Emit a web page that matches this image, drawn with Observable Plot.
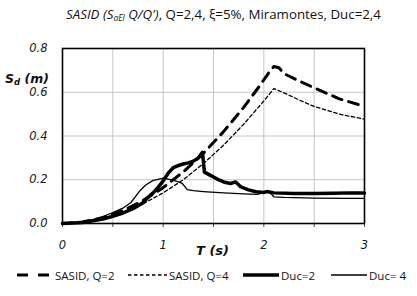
<!DOCTYPE html>
<html>
<head>
<meta charset="utf-8">
<script src="https://cdn.jsdelivr.net/npm/d3@7"></script>
<script src="https://cdn.jsdelivr.net/npm/@observablehq/plot@0.6"></script>
<style>
  html, body { margin:0; padding:0; background:#fff; }
  #wrap { position:relative; width:417px; height:296px; overflow:hidden; background:#fff; }
  #title { position:absolute; top:5px; left:0; width:417px; padding-left:30px; box-sizing:border-box; text-align:center;
           font-family:"Open Sans", sans-serif; font-size:13.3px; color:#111; white-space:nowrap; }
  #title sub { font-size:8.5px; vertical-align:-2px; }
  #chart { position:absolute; top:35px; left:0; }
  #ylabel { position:absolute; left:5px; top:71px; font-family:"DejaVu Sans", sans-serif; font-weight:bold; font-style:italic;
            font-size:12.5px; color:#111; white-space:nowrap; }
  #ylabel sub { font-size:8.5px; vertical-align:-2px; }
  #xlabel { position:absolute; left:196px; top:243px; font-family:"DejaVu Sans", sans-serif; font-weight:bold; font-style:italic;
            font-size:13px; color:#111; white-space:nowrap; }
  .leg { position:absolute; top:266px; display:flex; align-items:center; font-family:"Open Sans", sans-serif; font-size:11.5px; color:#111; white-space:nowrap; }
  .leg svg { display:block; }
</style>
</head>
<body>
<div id="wrap">
  <div id="title"><i>SASID (S<sub>aEl</sub> Q/Q')</i>, Q=2,4, ξ=5%, Miramontes, Duc=2,4</div>
  <div id="chart"></div>
  <div id="ylabel">S<sub>d</sub> (m)</div>
  <div id="xlabel">T (s)</div>
</div>
<script>
// ---- data ----
const tQ2  = [0, 0.2, 0.4, 0.6, 0.8, 1.0, 1.2, 1.4, 1.6, 1.8, 1.95, 2.05, 2.1, 2.15, 2.2, 2.35, 2.5, 2.75, 3.0];
const sdQ2 = [0, 0.007, 0.026, 0.059, 0.105, 0.164, 0.236, 0.321, 0.42, 0.531, 0.624, 0.69, 0.718, 0.712, 0.685, 0.652, 0.62, 0.57, 0.535];

const tQ4  = [0, 0.2, 0.4, 0.6, 0.8, 1.0, 1.2, 1.4, 1.6, 1.8, 2.0, 2.1, 2.2, 2.35, 2.5, 2.75, 3.0];
const sdQ4 = [0, 0.006, 0.022, 0.05, 0.09, 0.14, 0.2, 0.274, 0.358, 0.454, 0.56, 0.617, 0.597, 0.565, 0.535, 0.5, 0.477];

const tD2  = [0, 0.2, 0.4, 0.5, 0.6, 0.7, 0.8, 0.85, 0.9, 0.95, 1.0, 1.05, 1.1, 1.15, 1.2, 1.25, 1.3, 1.35, 1.39, 1.41, 1.47, 1.55, 1.6, 1.67, 1.72, 1.77, 1.84, 1.92, 2.0, 2.03, 2.1, 2.3, 2.5, 2.7, 2.85, 3.0];
const sdD2 = [0, 0.004, 0.02, 0.033, 0.048, 0.068, 0.095, 0.12, 0.14, 0.165, 0.195, 0.23, 0.255, 0.265, 0.272, 0.277, 0.285, 0.3, 0.325, 0.235, 0.22, 0.2, 0.19, 0.183, 0.19, 0.168, 0.155, 0.145, 0.142, 0.146, 0.14, 0.137, 0.137, 0.138, 0.14, 0.14];

const tD4  = [0, 0.2, 0.3, 0.4, 0.5, 0.6, 0.68, 0.77, 0.82, 0.9, 0.95, 1.0, 1.05, 1.1, 1.19, 1.24, 1.3, 1.4, 1.6, 1.8, 1.93, 2.0, 2.05, 2.1, 2.2, 2.5, 2.8, 3.0];
const sdD4 = [0, 0.008, 0.018, 0.032, 0.05, 0.07, 0.096, 0.15, 0.174, 0.197, 0.202, 0.207, 0.203, 0.198, 0.183, 0.155, 0.15, 0.146, 0.14, 0.135, 0.133, 0.14, 0.146, 0.122, 0.119, 0.116, 0.115, 0.115];

const seriesNames = ["SASID, Q=2", "SASID, Q=4", "Duc=2", "Duc= 4"];
const xTickValues = [0, 0.5, 1, 1.5, 2, 2.5, 3];
const xTickLabels = ["0", "", "1", "", "2", "", "3"];
const yTickValues = [0, 0.2, 0.4, 0.6, 0.8];
const yTickLabels = ["0.0", "0.2", "0.4", "0.6", "0.8"];

// ---- build table ----
const toRows = (ts, vs, s) => ts.map((t, i) => ({T: t, Sd: vs[i], s}));
const rows = [
  ...toRows(tQ2, sdQ2, seriesNames[0]),
  ...toRows(tQ4, sdQ4, seriesNames[1]),
  ...toRows(tD2, sdD2, seriesNames[2]),
  ...toRows(tD4, sdD4, seriesNames[3])
];
const styles = {
  [seriesNames[0]]: {strokeWidth: 3, strokeDasharray: "10,7"},
  [seriesNames[1]]: {strokeWidth: 1.3, strokeDasharray: "3.5,2.5"},
  [seriesNames[2]]: {strokeWidth: 3.5, strokeDasharray: null},
  [seriesNames[3]]: {strokeWidth: 1.3, strokeDasharray: null}
};

const lineMarks = seriesNames.map(name => Plot.line(rows.filter(r => r.s === name), {
  x: "T", y: "Sd", stroke: "black", strokeWidth: styles[name].strokeWidth,
  strokeDasharray: styles[name].strokeDasharray, strokeLinejoin: "round"
}));

const chart = Plot.plot({
  width: 417, height: 225,
  marginTop: 13, marginBottom: 37, marginLeft: 62, marginRight: 53,
  x: {domain: [0, 3]},
  y: {domain: [0, 0.8]},
  style: {fontFamily: "DejaVu Sans, sans-serif", fontSize: "11.5px", fontStyle: "italic", color: "#1a1a1a", background: "white"},
  marks: [
    Plot.gridX(xTickValues, {stroke: "#c6c6c6", strokeOpacity: 1, strokeWidth: 1}),
    Plot.gridY(yTickValues, {stroke: "#c6c6c6", strokeOpacity: 1, strokeWidth: 1}),
    Plot.axisX(xTickValues, {tickSize: 4, tickPadding: 13, tickFormat: (d, i) => xTickLabels[xTickValues.indexOf(d)], label: null, stroke: "#444"}),
    Plot.axisY(yTickValues, {tickSize: 0, tickPadding: 15, tickFormat: d => yTickLabels[yTickValues.indexOf(d)], label: null}),
    ...lineMarks,
    Plot.frame({stroke: "black", strokeWidth: 1.6})
  ]
});
document.getElementById("chart").appendChild(chart);

// ---- legend ----
const legendLefts = [17, 128, 243, 331];
const sampleWidths = [36, 39, 36, 36];
const wrap = document.getElementById("wrap");
seriesNames.forEach((name, i) => {
  const item = document.createElement("div");
  item.className = "leg";
  item.style.left = legendLefts[i] + "px";
  const w = sampleWidths[i];
  const st = styles[name];
  item.innerHTML = `<svg width="${w + 2}" height="18"><line x1="0" x2="${w}" y1="9" y2="9" stroke="black" stroke-width="${st.strokeWidth}" ${st.strokeDasharray ? `stroke-dasharray="${name === seriesNames[0] ? "11,10" : "3.5,2.5"}"` : ""}/></svg><span>${name}</span>`;
  wrap.appendChild(item);
});
</script>
</body>
</html>
